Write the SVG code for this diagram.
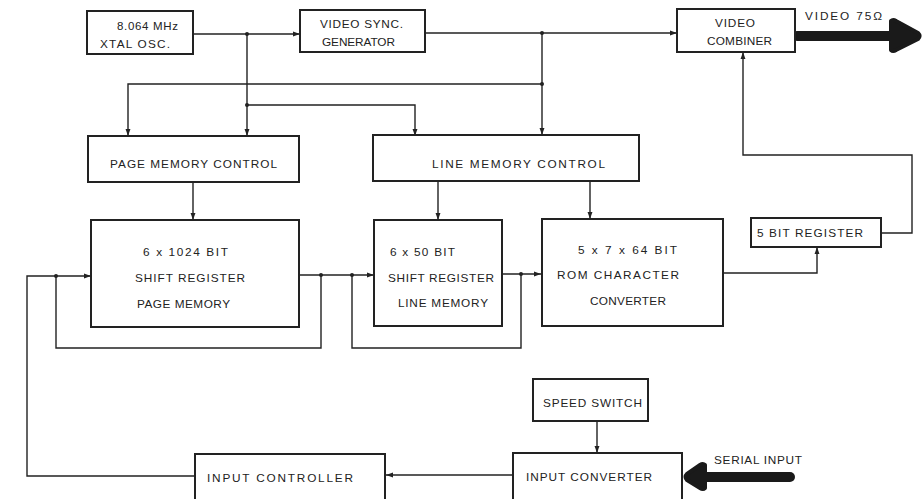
<svg xmlns="http://www.w3.org/2000/svg" width="923" height="499" viewBox="0 0 923 499">
<defs>
<style>
.box{fill:#fff;stroke:#222;stroke-width:2}
.ln{fill:none;stroke:#222;stroke-width:1.4}
.t{font-family:"Liberation Sans",Arial,sans-serif;font-size:11.8px;fill:#222}
.dot{fill:#222}
.big{fill:none;stroke:#1a1a1a;stroke-width:10;stroke-linecap:round}
.head{fill:#1a1a1a;stroke:#1a1a1a;stroke-width:4;stroke-linejoin:round}
</style>
<marker id="ah" viewBox="0 0 10 10" refX="10" refY="5" markerWidth="7" markerHeight="7" markerUnits="userSpaceOnUse" orient="auto">
<path d="M0,1.5 L10,5 L0,8.5 Z" fill="#222"/>
</marker>
</defs>
<rect width="923" height="499" fill="#fff"/>

<g id="connectors">
<path class="ln" d="M193,34 H300" marker-end="url(#ah)"/>
<path class="ln" d="M247,34 V136" marker-end="url(#ah)"/>
<path class="ln" d="M247,105 H415 V136" marker-end="url(#ah)"/>
<path class="ln" d="M425,33 H677" marker-end="url(#ah)"/>
<path class="ln" d="M542,33 V135" marker-end="url(#ah)"/>
<path class="ln" d="M542,84 H128 V136" marker-end="url(#ah)"/>
<path class="ln" d="M193,182 V220" marker-end="url(#ah)"/>
<path class="ln" d="M438,181 V220" marker-end="url(#ah)"/>
<path class="ln" d="M590,181 V219" marker-end="url(#ah)"/>
<path class="ln" d="M195,476 H27 V276 H91" marker-end="url(#ah)"/>
<path class="ln" d="M56,276 V348 H321 V275"/>
<path class="ln" d="M299,275 H374" marker-end="url(#ah)"/>
<path class="ln" d="M352,275 V348 H521 V274"/>
<path class="ln" d="M502,274 H541" marker-end="url(#ah)"/>
<path class="ln" d="M723,273 H817 V247" marker-end="url(#ah)"/>
<path class="ln" d="M881,233 H912 V155 H743 V52" marker-end="url(#ah)"/>
<path class="ln" d="M597,421 V453" marker-end="url(#ah)"/>
<path class="ln" d="M513,475 H386" marker-end="url(#ah)"/>
<circle class="dot" cx="247" cy="34" r="2"/>
<circle class="dot" cx="247" cy="105" r="2"/>
<circle class="dot" cx="542" cy="33" r="2"/>
<circle class="dot" cx="542" cy="84" r="2"/>
<circle class="dot" cx="56" cy="276" r="2"/>
<circle class="dot" cx="321" cy="275" r="2"/>
<circle class="dot" cx="352" cy="275" r="2"/>
<circle class="dot" cx="521" cy="274" r="2"/>
<path class="big" d="M797,36 H892"/>
<path class="head" d="M891,21 Q893,19 896,21 L918,33 Q921,36 918,39 L896,50 Q893,52 891,50 Z"/>
<path class="big" d="M705,477 H790"/>
<path class="head" d="M705,465 Q703,463 700,465 L687,474 Q684,477 687,480 L700,488 Q703,490 705,488 Z"/>
</g>

<g id="xtal">
<rect class="box" x="87" y="11" width="106" height="43"/>
<text class="t" x="117" y="30" textLength="61" lengthAdjust="spacing" style="font-size:11.5px">8.064 MHz</text>
<text class="t" x="100" y="48" textLength="70" lengthAdjust="spacing">XTAL OSC.</text>
</g>
<g id="vsg">
<rect class="box" x="300" y="10" width="125" height="42"/>
<text class="t" x="320" y="28" textLength="83" lengthAdjust="spacing">VIDEO  SYNC.</text>
<text class="t" x="322" y="46" textLength="73" lengthAdjust="spacing">GENERATOR</text>
</g>
<g id="combiner">
<rect class="box" x="677" y="9" width="118" height="43"/>
<text class="t" x="715" y="27" textLength="40" lengthAdjust="spacing">VIDEO</text>
<text class="t" x="707" y="45" textLength="65" lengthAdjust="spacing">COMBINER</text>
</g>
<g id="video-out-label">
<text class="t" x="805" y="20" textLength="77" lengthAdjust="spacing">VIDEO  75Ω</text>
</g>
<g id="pmc">
<rect class="box" x="88" y="136" width="211" height="46"/>
<text class="t" x="110" y="168" textLength="167" lengthAdjust="spacing">PAGE  MEMORY  CONTROL</text>
</g>
<g id="lmc">
<rect class="box" x="373" y="135" width="266" height="46"/>
<text class="t" x="432" y="168" textLength="173" lengthAdjust="spacing">LINE  MEMORY  CONTROL</text>
</g>
<g id="page-sr">
<rect class="box" x="91" y="220" width="208" height="107"/>
<text class="t" x="143" y="256" textLength="85" lengthAdjust="spacing">6 x 1024  BIT</text>
<text class="t" x="135" y="282" textLength="110" lengthAdjust="spacing">SHIFT  REGISTER</text>
<text class="t" x="137" y="308" textLength="93" lengthAdjust="spacing">PAGE  MEMORY</text>
</g>
<g id="line-sr">
<rect class="box" x="374" y="220" width="128" height="106"/>
<text class="t" x="390" y="256" textLength="65" lengthAdjust="spacing">6 x 50  BIT</text>
<text class="t" x="388" y="282" textLength="106" lengthAdjust="spacing">SHIFT  REGISTER</text>
<text class="t" x="398" y="307" textLength="90" lengthAdjust="spacing">LINE  MEMORY</text>
</g>
<g id="rom">
<rect class="box" x="542" y="219" width="181" height="107"/>
<text class="t" x="578" y="254" textLength="99" lengthAdjust="spacing">5 x 7 x  64  BIT</text>
<text class="t" x="557" y="279" textLength="122" lengthAdjust="spacing">ROM   CHARACTER</text>
<text class="t" x="590" y="305" textLength="76" lengthAdjust="spacing">CONVERTER</text>
</g>
<g id="five-bit">
<rect class="box" x="751" y="218" width="130" height="29"/>
<text class="t" x="757" y="237" textLength="106" lengthAdjust="spacing">5 BIT  REGISTER</text>
</g>
<g id="speed">
<rect class="box" x="533" y="379" width="115" height="42"/>
<text class="t" x="543" y="407" textLength="99" lengthAdjust="spacing">SPEED  SWITCH</text>
</g>
<g id="input-converter">
<rect class="box" x="513" y="453" width="169" height="55"/>
<text class="t" x="526" y="481" textLength="126" lengthAdjust="spacing">INPUT  CONVERTER</text>
</g>
<g id="input-controller">
<rect class="box" x="195" y="454" width="190" height="55"/>
<text class="t" x="207" y="482" textLength="146" lengthAdjust="spacing">INPUT    CONTROLLER</text>
</g>
<g id="serial-label">
<text class="t" x="714" y="464" textLength="88" lengthAdjust="spacing">SERIAL  INPUT</text>
</g>
</svg>
